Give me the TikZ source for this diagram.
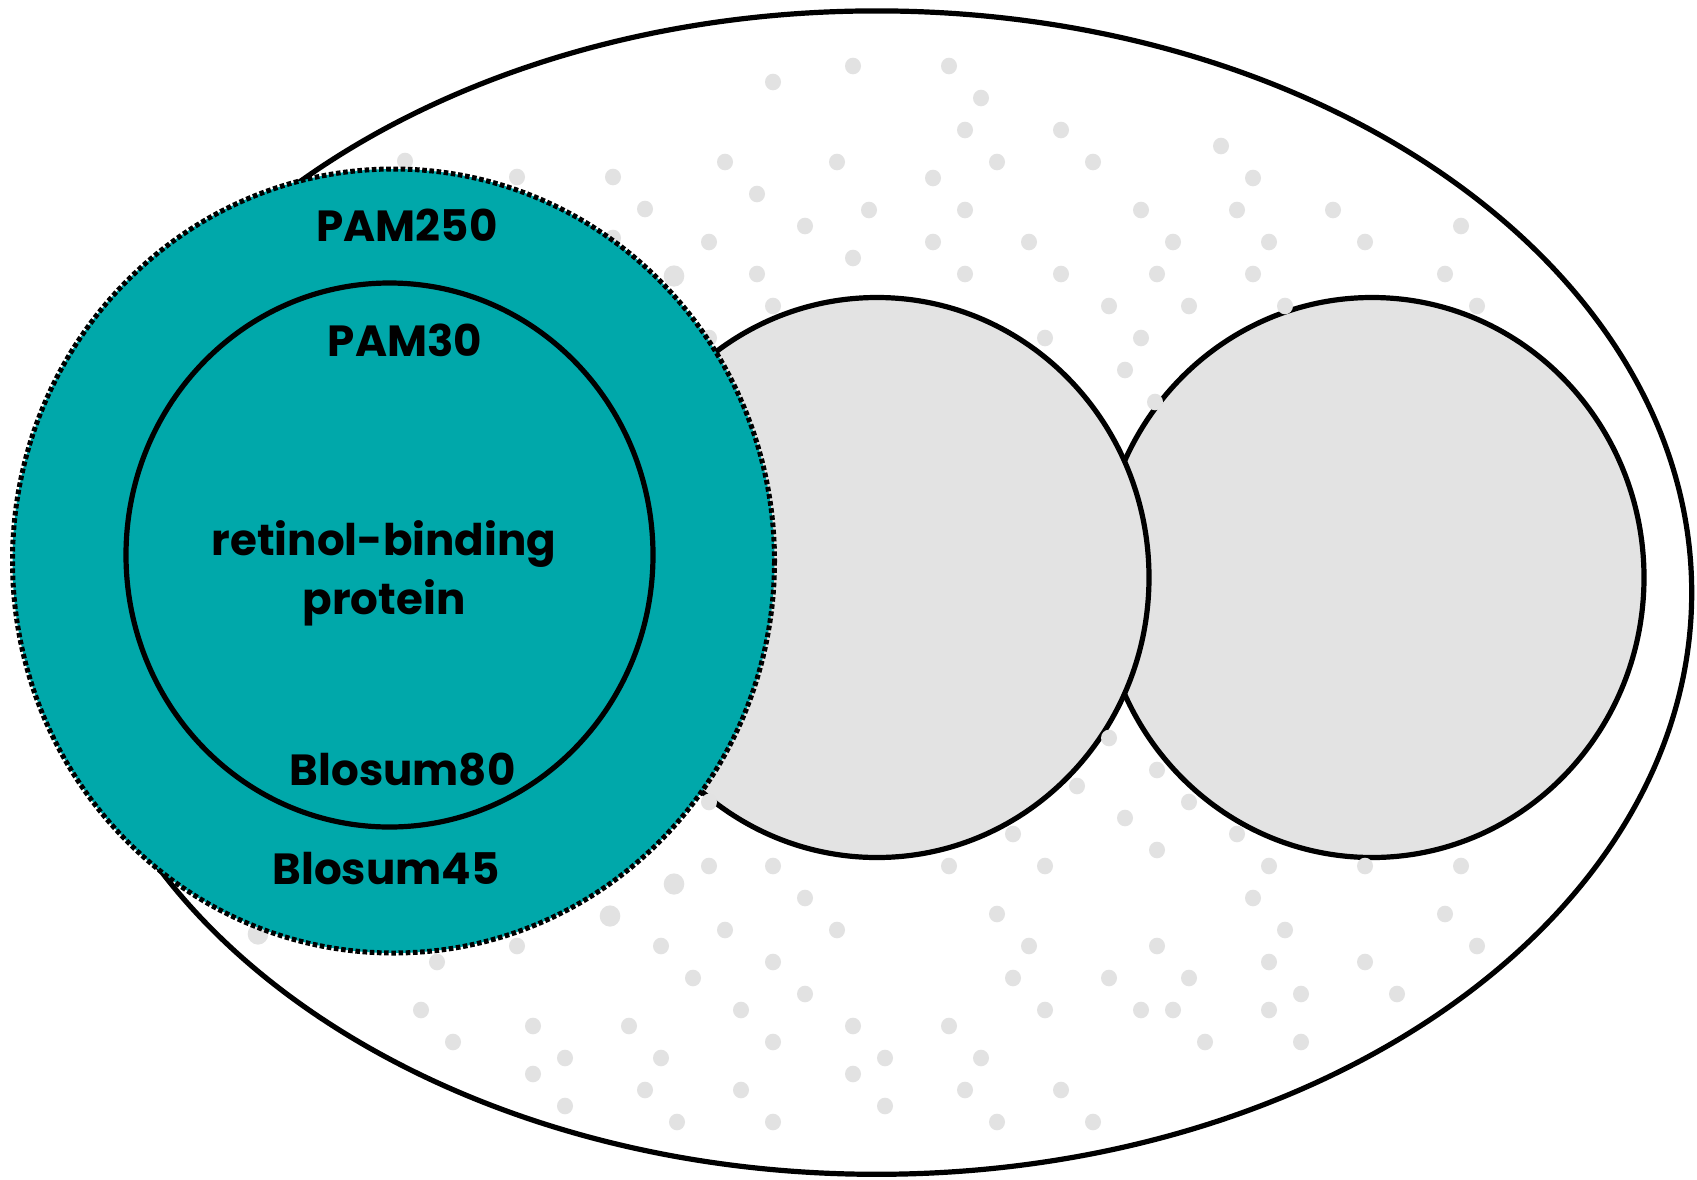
\documentclass[tikz,border=0pt]{standalone}
\usepackage{fontspec}
\setmainfont{Poppins}
\definecolor{tealfill}{RGB}{0,168,170}
\definecolor{grayfill}{RGB}{227,227,227}
\definecolor{dotgray}{RGB}{226,226,226}
\begin{document}
\begin{tikzpicture}[x=0.5pt,y=-0.5pt,
  outline/.style={draw=black,line width=2.6pt},
  dotfill/.style={fill=dotgray},
  lbl/.style={font=\bfseries\fontsize{21.8}{26}\selectfont,inner sep=0pt,anchor=base,text=black}]
\useasboundingbox (0,0) rectangle (1697,1179);
% big ellipse
\draw[outline,fill=white] (876.7,592.6) ellipse [x radius=815, y radius=581.7];
% gray circles
\draw[outline,fill=grayfill] (1372,577.5) ellipse [x radius=272, y radius=280];
\draw[outline,fill=grayfill] (877,577.5) ellipse [x radius=272, y radius=280];
% dots
\foreach \p in {(405,161),(517,177),(613,177),(645,209),(613,238),
(773,82),(853,66),(949,66),(981,98),(965,130),(1061,130),
(725,162),(837,162),(997,162),(1093,162),(933,178),
(757,194),(869,210),(965,210),(1141,210),(805,226),
(709,242),(933,242),(1029,242),(853,258),
(757,274),(965,274),(1061,274),(1157,274),
(773,306),(1109,306),(709,338),(1045,338),(1141,338),
(1125,370),(1155,402),
(1221,146),(1253,178),(1237,210),(1333,210),(1461,226),
(1173,242),(1269,242),(1365,242),(1253,274),(1445,274),
(1189,306),(1285,306),(1477,306),
(1109,738),(1077,786),(1157,770),(1189,802),(1125,818),(1013,834),(1237,834),
(709,802),(709,866),(773,866),(805,898),(725,930),(837,930),(661,946),(773,962),(693,978),(805,994),(741,1010),(853,1026),(773,1042),(661,1058),(885,1058),(853,1074),(645,1090),(741,1090),(885,1106),(677,1122),(773,1122),
(949,866),(1045,866),(997,914),(1029,946),(1157,946),(1013,978),(1109,978),(1045,1010),(1141,1010),(949,1026),(981,1058),(965,1090),(1061,1090),(997,1122),(1093,1122),
(1157,850),(1269,866),(1365,866),(1461,866),(1253,898),(1445,914),(1285,930),(1477,946),(1269,962),(1365,962),(1189,978),(1301,994),(1397,994),(1173,1010),(1269,1010),(1205,1042),(1301,1042),
(517,946),(437,962),(421,1010),(533,1026),(629,1026),(453,1042),(565,1058),(533,1074),(565,1106)}
  {\fill[dotfill] \p ellipse [x radius=8, y radius=8.3];}
\foreach \p in {(674,276),(258,934),(610,916),(674,884)}
  {\fill[dotfill] \p ellipse [x radius=10.3, y radius=10.6];}
% teal circle
\fill[tealfill] (393.5,561) ellipse [x radius=381, y radius=392];
\draw[black,line width=2.5pt,dash pattern=on 2.3pt off 1.3pt] (393.5,561) ellipse [x radius=381, y radius=392];
% inner circle
\draw[outline] (389.5,555) ellipse [x radius=263.5, y radius=272];
% labels
\node[lbl] (pam250) at (407,241.7) {PAM250};
\node[lbl] (pam30) at (405,356.7) {PAM30};
\node[lbl] (rbp1) at (384,555.6) {retinol-binding};
\node[lbl] (rbp2) at (384,614) {protein};
\node[lbl] (blo80) at (402.6,785) {Blosum80};
\node[lbl] (blo45) at (386,884) {Blosum45};
\end{tikzpicture}
\end{document}
